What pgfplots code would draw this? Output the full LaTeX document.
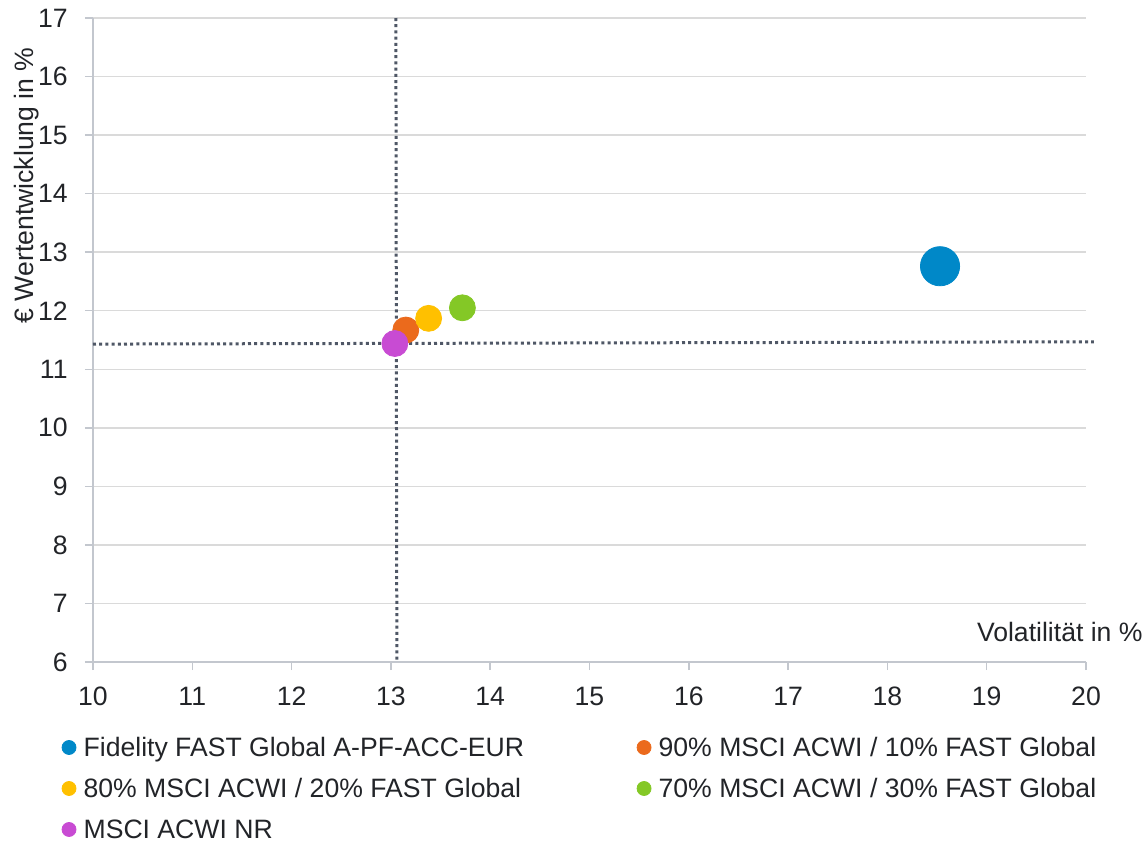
\documentclass[border=0pt]{standalone}
\usepackage{pgfplots}
\pgfplotsset{compat=1.18}
\usepackage{fontspec}
\setmainfont{Liberation Sans}

\definecolor{fidblue}{HTML}{0088C8}
\definecolor{mixorange}{HTML}{EB6A1C}
\definecolor{mixyellow}{HTML}{FFC000}
\definecolor{mixgreen}{HTML}{84C826}
\definecolor{msciviolet}{HTML}{C84BD3}
\definecolor{dotgray}{HTML}{4F5766}
\definecolor{axisgray}{HTML}{C3C7CE}
\definecolor{gridgray}{HTML}{DADADA}
\definecolor{txt}{HTML}{222428}

\begin{document}
\fontsize{13.3}{15.9}\selectfont
\begin{tikzpicture}
% 1 px of the reference = 0.5pt, axis box from (93,18) to (1086,662) px
\useasboundingbox (-46.5pt,-90pt) rectangle (527pt,331pt);
\begin{axis}[
  at={(0pt,0pt)}, anchor=south west,
  width=496.5pt, height=322pt, scale only axis,
  xmin=10, xmax=20, ymin=6, ymax=17,
  xtick={10,...,20}, ytick={6,...,17},
  axis x line*=bottom, axis y line*=left,
  axis line style={draw=axisgray, line width=0.75pt, -},
  tick style={draw=axisgray, line width=0.75pt},
  tick align=outside, major tick length=4pt,
  ymajorgrids, grid style={draw=gridgray, line width=0.75pt},
  /pgf/number format/assume math mode=true,
  ticklabel style={text=txt},
  yticklabel style={anchor=east, inner sep=0pt, xshift=-8.5pt},
  xticklabel style={anchor=north, inner sep=0pt, yshift=-8.5pt},
  xlabel={Volatilität in \%},
  xlabel style={at={(axis description cs:1.0574,0.0326)}, anchor=base east, inner sep=0pt, text=txt},
  ylabel={€ Wertentwicklung in \%},
  ylabel style={at={(axis description cs:-0.067,0.955)}, anchor=east, inner sep=0pt, rotate=0, text=txt},
  clip=false,
  legend columns=2,
  legend cell align=left,
  legend image code/.code={\draw[#1, mark size=3.5pt] plot coordinates {(0pt,0pt)};},
  legend style={draw=none, fill=none, text=txt,
    at={(axis description cs:-0.0312,-0.118)}, anchor=north west,
    inner sep=0pt, outer sep=0pt, row sep=11pt,
    nodes={inner sep=0pt, text height=9.5pt, text depth=0pt},
    /tikz/every odd column/.append style={column sep=3.8pt},
    /tikz/every even column/.append style={column sep=56.5pt}},
]
% reference lines (MSCI ACWI NR volatility and return)
\addplot[forget plot, draw=dotgray, line width=1.5pt, dash pattern=on 1.5pt off 1.6pt]
  coordinates {(13.05,17) (13.06,6)};
\addplot[forget plot, draw=dotgray, line width=1.5pt, dash pattern=on 1.5pt off 1.6pt]
  coordinates {(10,11.43) (20.08,11.47)};

\addplot[only marks, mark=*, mark size=9.8pt, color=fidblue]
  coordinates {(18.53,12.76)};
\addlegendentry{Fidelity FAST Global A-PF-ACC-EUR}
\addplot[only marks, mark=*, mark size=6.5pt, color=mixorange]
  coordinates {(13.15,11.67)};
\addlegendentry{90\% MSCI ACWI / 10\% FAST Global}
\addplot[only marks, mark=*, mark size=6.5pt, color=mixyellow]
  coordinates {(13.38,11.87)};
\addlegendentry{80\% MSCI ACWI / 20\% FAST Global}
\addplot[only marks, mark=*, mark size=6.5pt, color=mixgreen]
  coordinates {(13.72,12.05)};
\addlegendentry{70\% MSCI ACWI / 30\% FAST Global}
\addplot[only marks, mark=*, mark size=6.5pt, color=msciviolet]
  coordinates {(13.04,11.44)};
\addlegendentry{MSCI ACWI NR}
\end{axis}
\end{tikzpicture}
\end{document}
